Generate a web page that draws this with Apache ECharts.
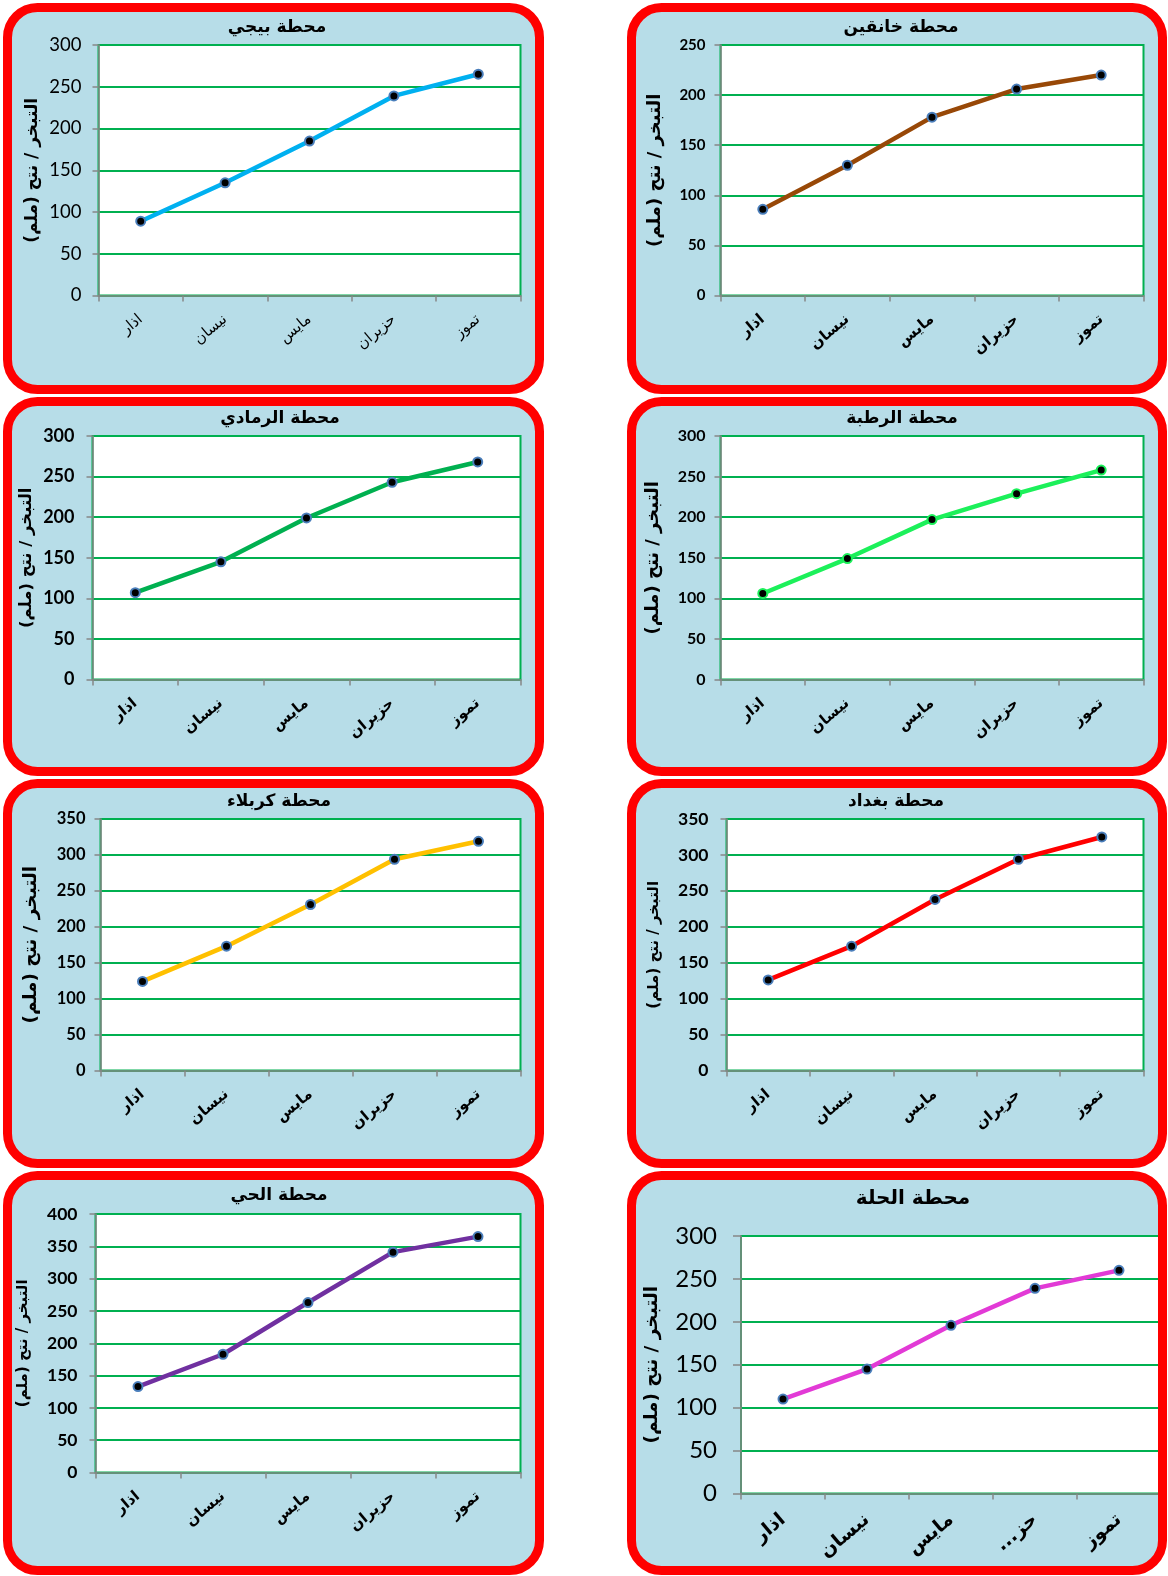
<!DOCTYPE html>
<html>
<head>
<meta charset="utf-8">
<script src="https://cdn.jsdelivr.net/npm/echarts@6/dist/echarts.min.js"></script>
<style>
  html, body { margin: 0; padding: 0; background: #ffffff; }
  #chart { width: 1168px; height: 1576px; }
</style>
</head>
<body>
<div id="chart"></div>
<script>
// Months on the category axis (Hilla's chart shows June truncated; RLM keeps the dots on the RTL side)
const months = ['اذار', 'نيسان', 'مايس', 'حزيران', 'تموز'];
const monthsHilla = ['اذار', 'نيسان', 'مايس', 'حز...\u200F', 'تموز'];

// Evaporation / transpiration (mm) per station
const baiji    = [89, 135, 185, 239, 265];
const khanaqin = [86, 130, 178, 206, 220];
const ramadi   = [107, 145, 199, 243, 268];
const rutba    = [106, 149, 197, 229, 258];
const karbala  = [124, 173, 231, 294, 319];
const baghdad  = [126, 173, 238, 294, 325];
const hay      = [133, 183, 263, 341, 365];
const hilla    = [110, 145, 196, 239, 260];

const yAxisTitle = 'التبخر / نتح (ملم)';

const FONT = 'Lato, "DejaVu Sans", sans-serif';
const ARABIC = '"DejaVu Sans", sans-serif';

// Panel layout: box = outer frame [x, y, w, h], plot = grid [left, top, width, height]
const panels = [
  { title: 'محطة بيجي', cats: months, data: baiji, color: '#00b0f0', max: 300, ring: '#4a7ebb',
    box: [3, 3, 541, 391], plot: [98.5, 45, 422, 250.5], titleXY: [272, 14],
    tickFont: { size: 18.5, weight: 'normal' }, catFont: { size: 15, weight: 'normal' },
    titleSize: 17, nameSize: 17, nameGap: 57, labelMargin: 17, tickLen: 6, catMargin: 22 },
  { title: 'محطة خانقين', cats: months, data: khanaqin, color: '#984807', max: 250, ring: '#4a7ebb',
    box: [627, 3, 540, 391], plot: [720.5, 45, 423, 250.5], titleXY: [896, 14],
    tickFont: { size: 15, weight: 'bold' }, catFont: { size: 15, weight: 'bold' },
    titleSize: 17, nameSize: 18, nameGap: 56, labelMargin: 15, tickLen: 6, catMargin: 22 },
  { title: 'محطة الرمادي', cats: months, data: ramadi, color: '#00b050', max: 300, ring: '#4a7ebb',
    box: [3, 397, 541, 379], plot: [92.5, 436, 428, 243.5], titleXY: [275, 405],
    tickFont: { size: 18, weight: 'bold' }, catFont: { size: 15, weight: 'bold' },
    titleSize: 17, nameSize: 16.5, nameGap: 57, labelMargin: 18, tickLen: 6, catMargin: 22 },
  { title: 'محطة الرطبة', cats: months, data: rutba, color: '#1cf05a', max: 300, ring: '#1cf05a',
    box: [627, 397, 540, 379], plot: [720.5, 436, 423, 243.5], titleXY: [897, 405],
    tickFont: { size: 16, weight: 'bold' }, catFont: { size: 15, weight: 'bold' },
    titleSize: 17, nameSize: 18, nameGap: 58, labelMargin: 15, tickLen: 6, catMargin: 22 },
  { title: 'محطة كربلاء', cats: months, data: karbala, color: '#ffc000', max: 350, ring: '#4a7ebb',
    box: [3, 779, 541, 389], plot: [100.5, 819, 420, 251.5], titleXY: [274, 788],
    tickFont: { size: 16.5, weight: 'bold' }, catFont: { size: 15, weight: 'bold' },
    titleSize: 17, nameSize: 18.5, nameGap: 60, labelMargin: 15, tickLen: 6, catMargin: 22 },
  { title: 'محطة بغداد', cats: months, data: baghdad, color: '#ff0000', max: 350, ring: '#4a7ebb',
    box: [627, 779, 540, 389], plot: [726.5, 819, 417, 251.5], titleXY: [891, 788],
    tickFont: { size: 17.5, weight: 'bold' }, catFont: { size: 15, weight: 'bold' },
    titleSize: 17, nameSize: 15, nameGap: 65, labelMargin: 18, tickLen: 6, catMargin: 22 },
  { title: 'محطة الحي', cats: months, data: hay, color: '#7030a0', max: 400, ring: '#4a7ebb',
    box: [3, 1171, 541, 404], plot: [95.5, 1214, 425, 258.5], titleXY: [274, 1182],
    tickFont: { size: 17.5, weight: 'bold' }, catFont: { size: 15, weight: 'bold' },
    titleSize: 17, nameSize: 15, nameGap: 65, labelMargin: 18, tickLen: 6, catMargin: 22 },
  { title: 'محطة الحلة', cats: monthsHilla, data: hilla, color: '#e23ad6', max: 300, ring: '#4a7ebb',
    box: [627, 1171, 540, 404], plot: [741, 1236, 420, 257.5], titleXY: [908, 1184],
    tickFont: { size: 24, weight: 'normal' }, catFont: { size: 19, weight: 'bold' },
    titleSize: 20, nameSize: 18.5, nameGap: 79, labelMargin: 24, tickLen: 8, catMargin: 24 }
];

const AXIS_GRAY = '#868686';
const GRID_GREEN = '#00b050';
const BORDER_W = 9;

const grids = [], xAxes = [], yAxes = [], series = [], titles = [], graphics = [];

panels.forEach((p, i) => {
  const [bx, by, bw, bh] = p.box;
  const half = BORDER_W / 2;
  // panel fill behind everything
  graphics.push({
    type: 'rect', z: -10,
    shape: { x: bx + half, y: by + half, width: bw - BORDER_W, height: bh - BORDER_W, r: 30 },
    style: { fill: '#b7dde8', stroke: null }
  });
  // red rounded frame on top
  graphics.push({
    type: 'rect', z: 100,
    shape: { x: bx + half, y: by + half, width: bw - BORDER_W, height: bh - BORDER_W, r: 30 },
    style: { fill: null, stroke: '#ff0000', lineWidth: BORDER_W }
  });

  const [gl, gt, gw, gh] = p.plot;
  grids.push({
    left: gl, top: gt, width: gw, height: gh,
    show: true, backgroundColor: '#ffffff',
    borderColor: GRID_GREEN, borderWidth: 2
  });

  titles.push({
    text: p.title,
    left: p.titleXY[0], top: p.titleXY[1], textAlign: 'center',
    textStyle: { fontFamily: ARABIC, fontWeight: 'bold', fontSize: p.titleSize, color: '#000000' }
  });

  xAxes.push({
    type: 'category', gridIndex: i, data: p.cats, boundaryGap: true,
    axisLine: { show: true, lineStyle: { color: AXIS_GRAY, width: 1.5 } },
    axisTick: { show: true, alignWithLabel: false, length: 6, lineStyle: { color: AXIS_GRAY, width: 1.5 } },
    axisLabel: {
      rotate: 40, margin: p.catMargin, interval: 0,
      fontFamily: ARABIC, fontSize: p.catFont.size, fontWeight: p.catFont.weight, color: '#000000'
    },
    splitLine: { show: false }
  });

  yAxes.push({
    type: 'value', gridIndex: i, min: 0, max: p.max, interval: 50,
    name: yAxisTitle, nameLocation: 'middle', nameRotate: 90, nameGap: p.nameGap,
    nameTextStyle: { fontFamily: ARABIC, fontWeight: 'bold', fontSize: p.nameSize, color: '#000000' },
    axisLine: { show: true, lineStyle: { color: AXIS_GRAY, width: 1.5 } },
    axisTick: { show: true, length: p.tickLen, lineStyle: { color: AXIS_GRAY, width: 1.5 } },
    axisLabel: {
      margin: p.labelMargin,
      fontFamily: FONT, fontSize: p.tickFont.size, fontWeight: p.tickFont.weight, color: '#000000'
    },
    splitLine: { show: true, lineStyle: { color: GRID_GREEN, width: 2 } }
  });

  series.push({
    type: 'line', xAxisIndex: i, yAxisIndex: i, data: p.data,
    symbol: 'circle', symbolSize: 9,
    lineStyle: { color: p.color, width: 4.5 },
    itemStyle: { color: '#000000', borderColor: p.ring, borderWidth: 2 },
    emphasis: { disabled: true },
    animation: false, z: 5
  });
});

const chart = echarts.init(document.getElementById('chart'), null, { renderer: 'canvas' });
chart.setOption({
  animation: false,
  backgroundColor: '#ffffff',
  title: titles,
  grid: grids,
  xAxis: xAxes,
  yAxis: yAxes,
  series: series,
  graphic: graphics
});
</script>
</body>
</html>
